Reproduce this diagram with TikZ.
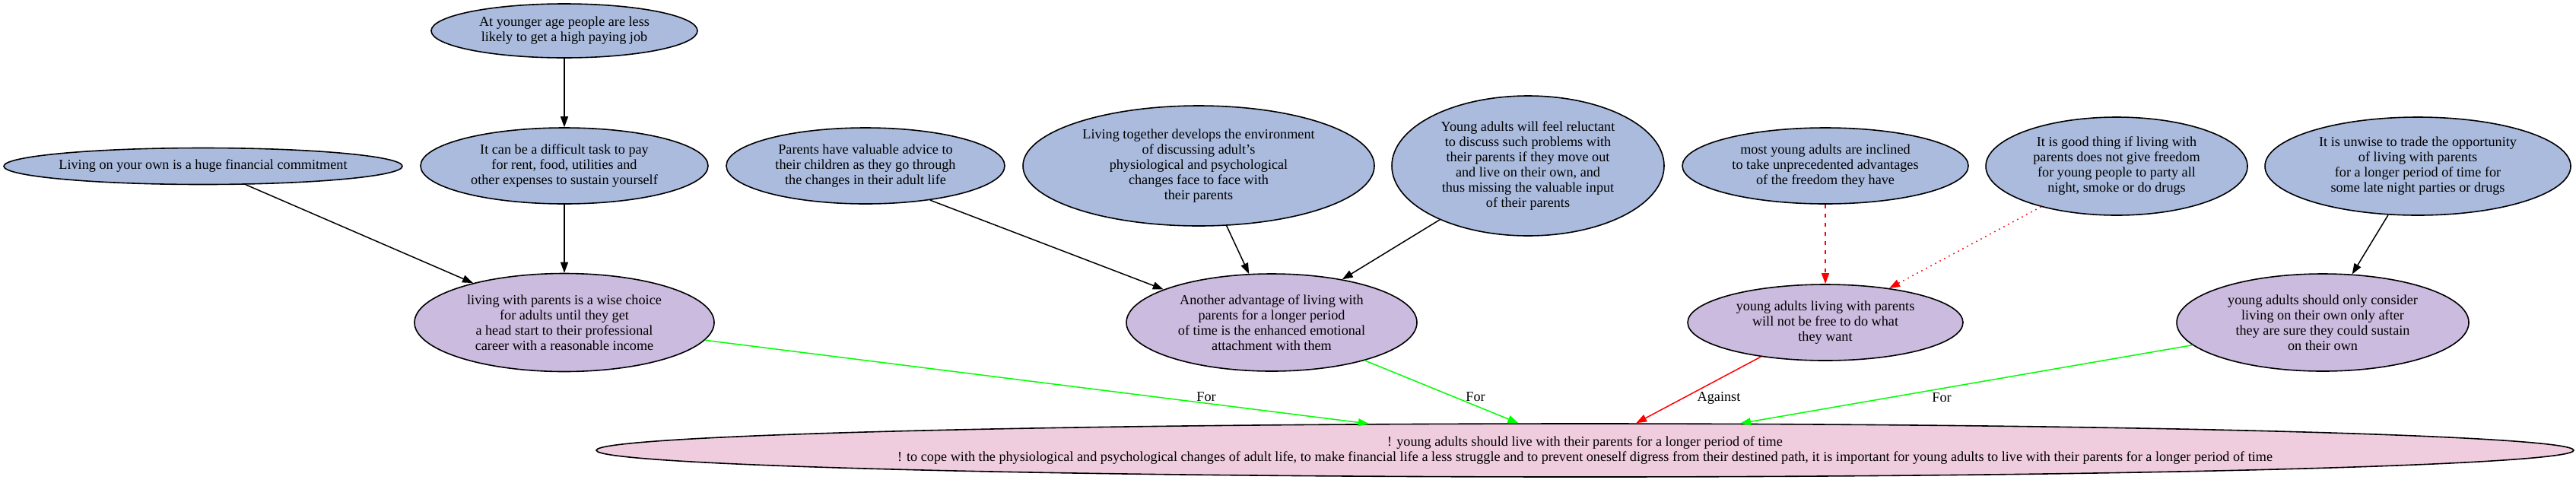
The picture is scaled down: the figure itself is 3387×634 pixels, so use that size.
\documentclass[tikz,border=0pt]{standalone}
\usepackage{fontspec}
\setmainfont{Liberation Serif}
\usetikzlibrary{shapes.geometric,arrows.meta}
\definecolor{blueN}{RGB}{170,187,222}
\definecolor{purpleN}{RGB}{203,187,222}
\definecolor{pinkN}{RGB}{239,204,222}
\definecolor{edgeGreen}{RGB}{0,255,0}
\definecolor{edgeRed}{RGB}{255,0,0}
\begin{document}
\begin{tikzpicture}[x=0.5pt,y=-0.5pt,
  every node/.style={font=\fontsize{9.1pt}{10pt}\selectfont},
  shell/.style={ellipse, draw=black, line width=0.8pt, inner sep=0pt},
  pro/.style={shell, fill=blueN},
  claim/.style={shell, fill=purpleN},
  thesis/.style={shell, fill=pinkN},
  txt/.style={align=center, inner sep=0pt},
  arr/.style={line width=0.75pt, -{Triangle[length=7pt,width=5pt]}},
  support/.style={arr, draw=black},
  forE/.style={arr, draw=edgeGreen},
  againstE/.style={arr, draw=edgeRed},
  againstDash/.style={arr, draw=edgeRed, dash pattern=on 2.5pt off 3.5pt},
  againstDot/.style={arr, draw=edgeRed, dash pattern=on 0.8pt off 2.6pt},
  lbl/.style={inner sep=0pt}
]
\fill[white] (0,0) rectangle (3387,634);
\useasboundingbox (0,0) rectangle (3387,634);

% premises (blue)
\node[pro, minimum width=175pt, minimum height=35.5pt] (young) at (742,40.5) {};
\node[txt] (young-t) at (young) {At younger age people are less\\likely to get a high paying job};

\node[pro, minimum width=262pt, minimum height=24pt] (own) at (267,218.5) {};
\node[txt] (own-t) at (own) {Living on your own is a huge financial commitment};

\node[pro, minimum width=189pt, minimum height=50pt] (task) at (742,218) {};
\node[txt] (task-t) at (task) {It can be a difficult task to pay\\for rent, food, utilities and\\other expenses to sustain yourself};

\node[pro, minimum width=183pt, minimum height=50pt] (advice) at (1138,218) {};
\node[txt] (advice-t) at (advice) {Parents have valuable advice to\\their children as they go through\\the changes in their adult life};

\node[pro, minimum width=231pt, minimum height=79pt] (env) at (1576,218) {};
\node[txt] (env-t) at (env) {Living together develops the environment\\of discussing adult's\\physiological and psychological\\changes face to face with\\their parents};

\node[pro, minimum width=179pt, minimum height=92pt] (reluct) at (2009,218) {};
\node[txt] (reluct-t) at (reluct) {Young adults will feel reluctant\\to discuss such problems with\\their parents if they move out\\and live on their own, and\\thus missing the valuable input\\of their parents};

\node[pro, minimum width=188pt, minimum height=50pt] (inclined) at (2400,218) {};
\node[txt] (inclined-t) at (inclined) {most young adults are inclined\\to take unprecedented advantages\\of the freedom they have};

\node[pro, minimum width=172pt, minimum height=64.5pt] (good) at (2783,218.5) {};
\node[txt] (good-t) at (good) {It is good thing if living with\\parents does not give freedom\\for young people to party all\\night, smoke or do drugs};

\node[pro, minimum width=201pt, minimum height=64.5pt] (unwise) at (3179,218.5) {};
\node[txt] (unwise-t) at (unwise) {It is unwise to trade the opportunity\\of living with parents\\for a longer period of time for\\some late night parties or drugs};

% claims (purple)
\node[claim, minimum width=197pt, minimum height=64.5pt] (wise) at (742,424) {};
\node[txt] (wise-t) at (wise) {living with parents is a wise choice\\for adults until they get\\a head start to their professional\\career with a reasonable income};

\node[claim, minimum width=191pt, minimum height=64pt] (adv) at (1672,424) {};
\node[txt] (adv-t) at (adv) {Another advantage of living with\\parents for a longer period\\of time is the enhanced emotional\\attachment with them};

\node[claim, minimum width=181pt, minimum height=50pt] (free) at (2400,424) {};
\node[txt] (free-t) at (free) {young adults living with parents\\will not be free to do what\\they want};

\node[claim, minimum width=192pt, minimum height=64pt] (consider) at (3054,424) {};
\node[txt] (consider-t) at (consider) {young adults should only consider\\living on their own only after\\they are sure they could sustain\\on their own};

% thesis (pink)
\node[thesis, minimum width=1300pt, minimum height=35pt] (main) at (2084,592) {};
\node[txt] (main-t) at (main) {! young adults should live with their parents for a longer period of time\\! to cope with the physiological and psychological changes of adult life, to make financial life a less struggle and to prevent oneself digress from their destined path, it is important for young adults to live with their parents for a longer period of time};

% support edges
\draw[support] (young) -- (task);
\draw[support] (own) -- (wise);
\draw[support] (task) -- (wise);
\draw[support] (advice.-28) -- (adv.163.6);
\draw[support] (env) -- (adv);
\draw[support] (reluct) -- (adv);
\draw[support] (unwise) -- (consider);
\draw[againstDash] (inclined) -- (free);
\draw[againstDot] (good) -- (free);

% edges to thesis
\draw[forE] (wise) -- (main.173.1);
\draw[forE] (adv) -- (main);
\draw[againstE] (free) -- (main);
\draw[forE] (consider) -- (main);

% edge labels
\node[lbl] (lab1) at (1586,522) {For};
\node[lbl] (lab2) at (1940,522) {For};
\node[lbl] (lab3) at (2260,523) {Against};
\node[lbl] (lab4) at (2553,523) {For};
\end{tikzpicture}
\end{document}
